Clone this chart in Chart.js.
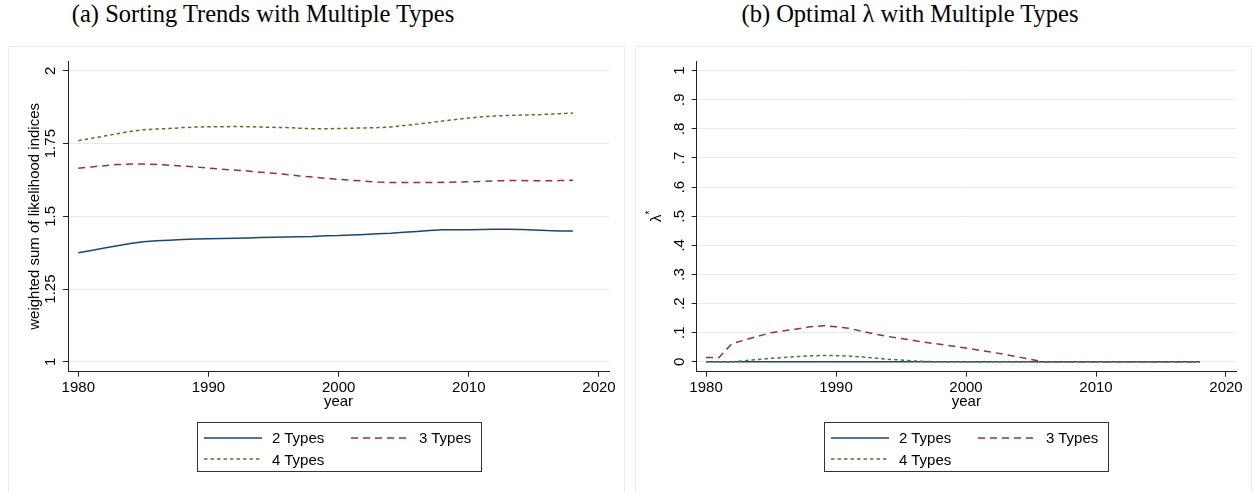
<!DOCTYPE html>
<html>
<head>
<meta charset="utf-8">
<title>Sorting Trends and Optimal lambda with Multiple Types</title>
<script src="https://cdn.jsdelivr.net/npm/chart.js@4.4.1/dist/chart.umd.min.js"></script>
<style>
    html, body { margin: 0; padding: 0; background: #fff; }
    body { width: 1255px; height: 493px; position: relative; overflow: hidden; font-family: "Liberation Sans", Arial, sans-serif; }
    .title { position: absolute; top: 0px; font-family: "Liberation Serif", "Times New Roman", serif; font-size: 24.5px; color: #000; white-space: nowrap; transform: translateX(-50%); }
    .panel { position: absolute; top: 46px; width: 617px; height: 470px; border: 1px solid #e6edf0; box-sizing: border-box; }
    canvas { position: absolute; top: 47px; }
    .legend { position: absolute; top: 422px; width: 285px; height: 50px; border: 1px solid #333; box-sizing: border-box; background: #fff;
              display: grid; grid-template-columns: 147px 132px; grid-auto-rows: 21.5px; padding: 4px 0 0 6px; font-size: 15px; color: #000; }
    .legend .item { display: flex; align-items: center; white-space: nowrap; }
    .legend svg { margin-right: 10px; }
</style>
</head>
<body>
<div class="title" style="left:263px">(a) Sorting Trends with Multiple Types</div>
<div class="title" style="left:910px">(b) Optimal λ with Multiple Types</div>

<div class="panel" style="left:8px"></div>
<div class="panel" style="left:635px"></div>

<canvas id="chart-a" width="615" height="446" style="left:9px;width:615px;height:446px"></canvas>
<canvas id="chart-b" width="615" height="446" style="left:636px;width:615px;height:446px"></canvas>

<div class="legend" id="legend-a" style="left:197px"></div>
<div class="legend" id="legend-b" style="left:824px"></div>

<script>
// ---- data ----
const years = [1980, 1981, 1982, 1983, 1984, 1985, 1986, 1987, 1988, 1989,
               1990, 1991, 1992, 1993, 1994, 1995, 1996, 1997, 1998, 1999,
               2000, 2001, 2002, 2003, 2004, 2005, 2006, 2007, 2008, 2009,
               2010, 2011, 2012, 2013, 2014, 2015, 2016, 2017, 2018];

const seriesNames = ['2 Types', '3 Types', '4 Types'];

// panel (a): weighted sum of likelihood indices
const sorting2 = [1.375, 1.383, 1.391, 1.399, 1.407, 1.413, 1.416, 1.418, 1.420, 1.422,
                  1.423, 1.424, 1.425, 1.426, 1.427, 1.428, 1.429, 1.430, 1.431, 1.433,
                  1.434, 1.436, 1.438, 1.440, 1.442, 1.445, 1.448, 1.451, 1.454, 1.454,
                  1.454, 1.455, 1.456, 1.456, 1.455, 1.453, 1.451, 1.450, 1.450];
const sorting3 = [1.665, 1.670, 1.674, 1.678, 1.680, 1.680, 1.678, 1.676, 1.673, 1.670,
                  1.666, 1.662, 1.659, 1.656, 1.652, 1.648, 1.644, 1.639, 1.635, 1.631,
                  1.627, 1.624, 1.621, 1.618, 1.616, 1.616, 1.616, 1.616, 1.617, 1.618,
                  1.619, 1.620, 1.622, 1.623, 1.623, 1.622, 1.622, 1.623, 1.624];
const sorting4 = [1.760, 1.768, 1.776, 1.784, 1.792, 1.798, 1.800, 1.802, 1.805, 1.807,
                  1.808, 1.808, 1.809, 1.808, 1.807, 1.806, 1.805, 1.803, 1.801, 1.801,
                  1.802, 1.803, 1.804, 1.805, 1.807, 1.812, 1.817, 1.822, 1.828, 1.833,
                  1.838, 1.842, 1.845, 1.847, 1.848, 1.849, 1.851, 1.853, 1.855];

// panel (b): optimal lambda
const lambda2 = [0, 0, 0, 0, 0, 0, 0, 0, 0, 0,
                 0, 0, 0, 0, 0, 0, 0, 0, 0, 0,
                 0, 0, 0, 0, 0, 0, 0, 0, 0, 0,
                 0, 0, 0, 0, 0, 0, 0, 0, 0];
const lambda3 = [0.015, 0.015, 0.063, 0.075, 0.088, 0.100, 0.107, 0.113, 0.120, 0.124,
                 0.120, 0.115, 0.105, 0.095, 0.087, 0.080, 0.073, 0.066, 0.060, 0.054,
                 0.047, 0.040, 0.033, 0.025, 0.017, 0.008, 0, 0, 0, 0,
                 0, 0, 0, 0, 0, 0, 0, 0, 0];
const lambda4 = [0, 0, 0, 0.004, 0.008, 0.012, 0.015, 0.018, 0.020, 0.022,
                 0.021, 0.020, 0.017, 0.013, 0.009, 0.006, 0.003, 0.001, 0, 0,
                 0, 0, 0, 0, 0, 0, 0, 0, 0, 0,
                 0, 0, 0, 0, 0, 0, 0, 0, 0];

const xTicks = [1980, 1990, 2000, 2010, 2020];
const sortingTicks = [1, 1.25, 1.5, 1.75, 2];
const sortingTickLabels = ['1', '1.25', '1.5', '1.75', '2'];
const lambdaTicks = [0, 0.1, 0.2, 0.3, 0.4, 0.5, 0.6, 0.7, 0.8, 0.9, 1];
const lambdaTickLabels = ['0', '.1', '.2', '.3', '.4', '.5', '.6', '.7', '.8', '.9', '1'];

// ---- styling ----
const FONT = '"Liberation Sans", Arial, sans-serif';
const AXIS = '#222';
const GRID = '#e4ecf0';
const styles = [
    { color: '#1a476f', dash: [] },
    { color: '#90353b', dash: [7, 5] },
    { color: '#55752f', dash: [3.5, 3] },
];

Chart.defaults.font.family = FONT;
Chart.defaults.font.size = 15;
Chart.defaults.color = '#000';

// Stata draws the y labels turned a quarter turn; do the same here
const rotatedYLabels = {
    id: 'rotatedYLabels',
    afterDraw(chart, args, opts) {
        const ctx = chart.ctx;
        const yScale = chart.scales.y;
        const area = chart.chartArea;
        ctx.save();
        ctx.fillStyle = '#000';
        ctx.textBaseline = 'alphabetic';
        ctx.font = `15px ${FONT}`;
        ctx.textAlign = 'center';
        yScale.ticks.forEach(t => {
            ctx.save();
            ctx.translate(area.left - 13, yScale.getPixelForValue(t.value));
            ctx.rotate(-Math.PI / 2);
            ctx.fillText(t.label, 0, 0);
            ctx.restore();
        });

        // axis title, with an optional superscript
        const midY = (area.top + area.bottom) / 2;
        ctx.translate(area.left - opts.titleOffset, midY);
        ctx.rotate(-Math.PI / 2);
        ctx.textAlign = 'left';
        const w = ctx.measureText(opts.title).width;
        let supW = 0;
        if (opts.sup) {
            ctx.font = `10px ${FONT}`;
            supW = ctx.measureText(opts.sup).width;
            ctx.font = `15px ${FONT}`;
        }
        const start = -(w + supW) / 2;
        ctx.fillText(opts.title, start, 0);
        if (opts.sup) {
            ctx.font = `10px ${FONT}`;
            ctx.fillText(opts.sup, start + w, -8);
        }
        ctx.restore();
    }
};

const makeDatasets = (seriesList) => seriesList.map((values, i) => ({
    label: seriesNames[i],
    data: years.map((yr, j) => ({ x: yr, y: values[j] })),
    borderColor: styles[i].color,
    borderDash: styles[i].dash,
    borderWidth: 1.5,
    pointRadius: 0,
    tension: 0,
    fill: false,
    order: 3 - i,
}));

const buildChart = (canvasId, datasets, cfg) => new Chart(document.getElementById(canvasId), {
    type: 'line',
    data: { datasets },
    plugins: [rotatedYLabels],
    options: {
        responsive: false,
        animation: false,
        events: [],
        layout: { padding: { left: 0, right: 15, top: 14, bottom: 76.3 } },
        plugins: {
            legend: { display: false },
            tooltip: { enabled: false },
            rotatedYLabels: { title: cfg.yTitle, sup: cfg.ySup, titleOffset: cfg.yTitleOffset },
        },
        scales: {
            x: {
                type: 'linear',
                min: cfg.xMin,
                max: cfg.xMax,
                afterBuildTicks: (scale) => { scale.ticks = xTicks.map(v => ({ value: v })); },
                afterFit: (scale) => { scale.height = 45; },
                ticks: { padding: 2, color: '#000', font: { size: 15 }, maxRotation: 0, callback: (v) => String(v) },
                grid: { drawOnChartArea: false, drawTicks: true, tickLength: 5, tickColor: AXIS, tickWidth: 1 },
                border: { display: true, color: AXIS, width: 1 },
                title: { display: true, text: 'year', color: '#000', font: { size: 15 }, padding: { top: 0, bottom: 6 } },
            },
            y: {
                type: 'linear',
                min: cfg.yMin,
                max: cfg.yMax,
                afterBuildTicks: (scale) => { scale.ticks = cfg.yTicks.map(v => ({ value: v })); },
                afterFit: (scale) => { scale.width = cfg.yWidth; },
                ticks: { display: false, callback: (v, i) => cfg.yTickLabels[i] },
                grid: { color: GRID, lineWidth: 1, drawTicks: true, tickLength: 5, tickColor: AXIS, tickWidth: 1 },
                border: { display: true, color: AXIS, width: 1 },
            },
        },
    },
});

// legend box, two columns like the Stata one
const renderLegend = (elId, chart) => {
    const el = document.getElementById(elId);
    el.innerHTML = chart.data.datasets.map(ds => `
        <div class="item">
            <svg width="58" height="4"><line x1="0" y1="2" x2="58" y2="2" stroke="${ds.borderColor}"
                 stroke-width="1.3" stroke-dasharray="${ds.borderDash.join(' ')}"/></svg>
            <span>${ds.label}</span>
        </div>`).join('');
};

const chartA = buildChart('chart-a', makeDatasets([sorting2, sorting3, sorting4]), {
    xMin: 1979.21, xMax: 2020.77,
    yMin: 0.966, yMax: 2.034,
    yTicks: sortingTicks, yTickLabels: sortingTickLabels,
    yWidth: 59,
    yTitle: 'weighted sum of likelihood indices', ySup: '', yTitleOffset: 29,
});

const chartB = buildChart('chart-b', makeDatasets([lambda2, lambda3, lambda4]), {
    xMin: 1979.28, xMax: 2020.77,
    yMin: -0.034, yMax: 1.033,
    yTicks: lambdaTicks, yTickLabels: lambdaTickLabels,
    yWidth: 60.7,
    yTitle: 'λ', ySup: '*', yTitleOffset: 36,
});

renderLegend('legend-a', chartA);
renderLegend('legend-b', chartB);
</script>
</body>
</html>
